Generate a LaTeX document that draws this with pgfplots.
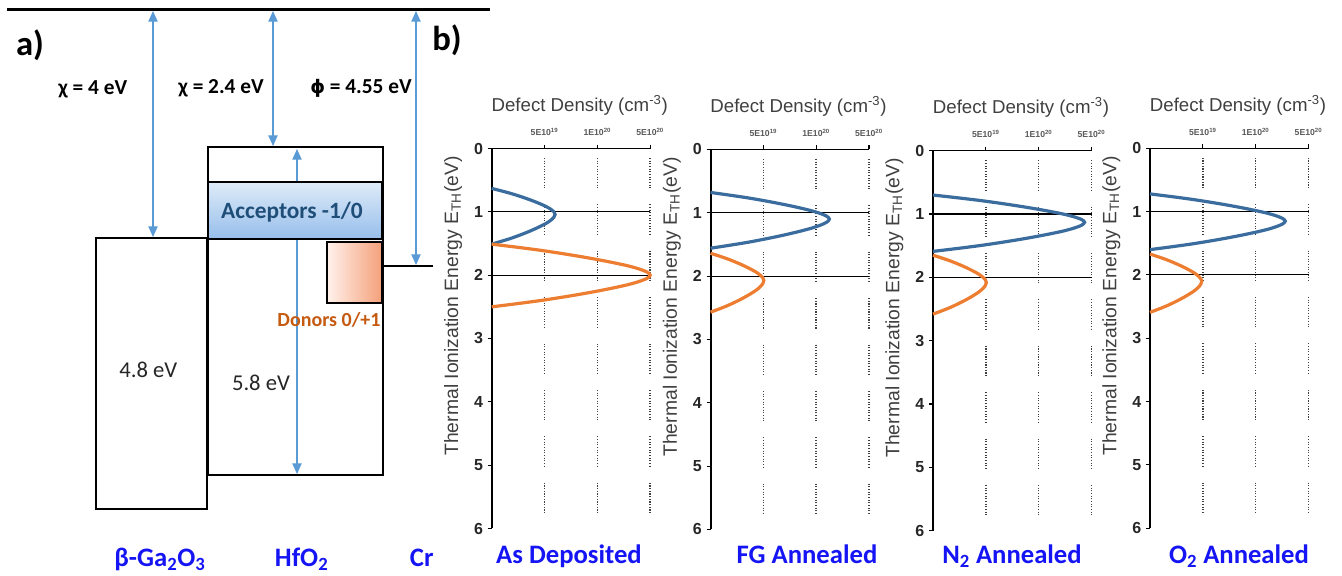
\documentclass[border=0pt]{standalone}
\usepackage{pgfplots}
\pgfplotsset{compat=1.18}
\usepackage{fontspec}
\setmainfont{Liberation Sans}
\newfontfamily\carlito{Carlito}
\newfontfamily\dejavu{DejaVu Sans}
\usetikzlibrary{arrows.meta}
\definecolor{cblue}{RGB}{58,108,158}
\definecolor{corange}{RGB}{237,125,49}
\definecolor{arrowblue}{RGB}{91,155,213}
\definecolor{labblue}{RGB}{20,20,245}
\definecolor{accblue}{RGB}{31,78,121}
\definecolor{donor}{RGB}{197,90,17}
\definecolor{txtgray}{RGB}{64,64,64}
\definecolor{accTop}{RGB}{222,235,248}
\definecolor{accBot}{RGB}{150,190,235}
\definecolor{donL}{RGB}{255,242,236}
\definecolor{donR}{RGB}{244,160,122}
\pgfplotsset{panel/.style={
  scale only axis, width=118.875pt, height=285pt, anchor=north west,
  xmin=0,xmax=3,ymin=0,ymax=6, y dir=reverse, clip=false,
  axis line style={draw=none},
  xtick={1,2,3},
  xticklabels={5E10\textsuperscript{19},1E10\textsuperscript{20},5E10\textsuperscript{20}},
  ytick={0,1,2,3,4,5,6},
  xtick pos=right, xticklabel pos=right, ytick pos=left,
  tick align=outside, major tick length=3pt,
  tick style={black, line width=0.8pt},
  /pgf/number format/assume math mode=true,
  yticklabel style={font=\fontsize{12}{12}\selectfont\bfseries, text=black!85},
  xticklabel style={font=\fontsize{6.5}{7}\selectfont\bfseries, text=black!65, yshift=3pt},
},
gridline/.style={black!75, line width=1.1pt, dash pattern=on 0.8pt off 1.2pt on 0.8pt off 1.2pt on 0.8pt off 1.2pt on 0.8pt off 1.2pt on 0.8pt off 1.2pt on 0.8pt off 1.2pt on 0.8pt off 1.2pt on 0.8pt off 1.2pt on 0.8pt off 1.2pt on 0.8pt off 1.2pt on 0.8pt off 1.2pt on 0.8pt off 12pt},
curveB/.style={cblue, line width=2.4pt, smooth},
curveO/.style={corange, line width=2.4pt, smooth},
}
\newcommand{\panelframe}{%
  \addplot[gridline] coordinates {(1,0.15) (1,5.87)};
  \addplot[gridline] coordinates {(2,0.15) (2,5.87)};
  \addplot[gridline] coordinates {(3,0.15) (3,5.87)};
  \addplot[black, line width=0.8pt] coordinates {(0,1) (3,1)};
  \addplot[black, line width=0.8pt] coordinates {(0,2) (3,2)};
  \addplot[black, line width=1pt] coordinates {(0,0) (3,0)};
  \addplot[black, line width=1.5pt] coordinates {(0,0) (0,6)};
}
\begin{document}
\begin{tikzpicture}
\begin{axis}[at={(0pt,0pt)}, anchor=south west, scale only axis,
  width=1006.5pt, height=431.25pt, xmin=0, xmax=1342, ymin=0, ymax=575,
  y dir=reverse, hide axis, clip=false]
% vacuum level
\addplot[black, line width=2.25pt] coordinates {(7,9) (490,9)};
% beta-Ga2O3 band box
\addplot[draw=black, line width=1.5pt] coordinates {(96,238) (207,238) (207,509) (96,509)} -- cycle;
% HfO2 band box
\addplot[draw=black, line width=1.5pt] coordinates {(208,147) (383,147) (383,475) (208,475)} -- cycle;
% Cr Fermi level
\addplot[black, line width=1.5pt] coordinates {(383,266) (433,266)};
% arrows
\addplot[arrowblue, line width=0.8pt, arrows={Triangle[length=8pt,width=7pt]-Triangle[length=8pt,width=7pt]}] coordinates {(153,11) (153,237)};
\addplot[arrowblue, line width=0.8pt, arrows={Triangle[length=8pt,width=7pt]-Triangle[length=8pt,width=7pt]}] coordinates {(273,11) (273,146)};
\addplot[arrowblue, line width=0.8pt, arrows={Triangle[length=8pt,width=7pt]-Triangle[length=8pt,width=7pt]}] coordinates {(416,11) (416,265)};
\addplot[arrowblue, line width=0.8pt, arrows={Triangle[length=8pt,width=7pt]-Triangle[length=8pt,width=7pt]}] coordinates {(297,149) (297,474)};
% acceptor and donor bands
\addplot[draw=black, line width=1.5pt, top color=accTop, bottom color=accBot] coordinates {(208,182) (382,182) (382,239) (208,239)} -- cycle;
\addplot[draw=black, line width=1.5pt, left color=donL, right color=donR] coordinates {(327,242) (382,242) (382,303) (327,303)} -- cycle;
% texts panel a
\node[font=\carlito\bfseries\fontsize{26}{28}\selectfont, anchor=base] at (axis cs:30,55) {a)};
\node[font=\carlito\bfseries\fontsize{26}{28}\selectfont, anchor=base] at (axis cs:447,50) {b)};
\node[font=\carlito\bfseries\fontsize{16}{18}\selectfont, anchor=base] at (axis cs:92.7,94) {χ = 4 eV};
\node[font=\carlito\bfseries\fontsize{16}{18}\selectfont, anchor=base] at (axis cs:221,93.3) {χ = 2.4 eV};
\node[font=\carlito\bfseries\fontsize{16}{18}\selectfont, anchor=base] at (axis cs:361,93.3) {{\dejavu\bfseries\fontsize{14}{16}\selectfont ϕ} = 4.55 eV};
\node[font=\carlito\bfseries\fontsize{17.5}{19}\selectfont, text=accblue, anchor=base] at (axis cs:292,218.3) {Acceptors -1/0};
\node[font=\carlito\bfseries\fontsize{15}{17}\selectfont, text=donor, anchor=base] at (axis cs:329,326.7) {Donors 0/+1};
\node[font=\carlito\fontsize{17}{19}\selectfont, text=black!85, anchor=base] at (axis cs:148.3,377.3) {4.8 eV};
\node[font=\carlito\fontsize{17}{19}\selectfont, text=black!85, anchor=base] at (axis cs:261,390.7) {5.8 eV};
\node[font=\carlito\bfseries\fontsize{20}{22}\selectfont, text=labblue, anchor=base] at (axis cs:160,566) {β-Ga\textsubscript{2}O\textsubscript{3}};
\node[font=\carlito\bfseries\fontsize{20}{22}\selectfont, text=labblue, anchor=base] at (axis cs:301.7,566) {HfO\textsubscript{2}};
\node[font=\carlito\bfseries\fontsize{20}{22}\selectfont, text=labblue, anchor=base] at (axis cs:421.7,566) {Cr};
% texts panel b
\node[font=\carlito\bfseries\fontsize{20}{22}\selectfont, text=labblue, anchor=base] at (axis cs:569,563.5) {As Deposited};
\node[font=\carlito\bfseries\fontsize{20}{22}\selectfont, text=labblue, anchor=base] at (axis cs:807,563.5) {FG Annealed};
\node[font=\carlito\bfseries\fontsize{20}{22}\selectfont, text=labblue, anchor=base] at (axis cs:1012,563.5) {N\textsubscript{2} Annealed};
\node[font=\carlito\bfseries\fontsize{20}{22}\selectfont, text=labblue, anchor=base] at (axis cs:1239,563.5) {O\textsubscript{2} Annealed};
\node[font=\fontsize{14}{16}\selectfont, text=txtgray, anchor=base] at (axis cs:579.7,111.5) {Defect Density (cm\textsuperscript{-3})};
\node[font=\fontsize{14}{16}\selectfont, text=txtgray, anchor=base] at (axis cs:798.5,112.4) {Defect Density (cm\textsuperscript{-3})};
\node[font=\fontsize{14}{16}\selectfont, text=txtgray, anchor=base] at (axis cs:1021,113.7) {Defect Density (cm\textsuperscript{-3})};
\node[font=\fontsize{14}{16}\selectfont, text=txtgray, anchor=base] at (axis cs:1238,111.3) {Defect Density (cm\textsuperscript{-3})};
\node[font=\fontsize{14.5}{16}\selectfont, text=txtgray, anchor=base, rotate=90] at (axis cs:458,306) {Thermal Ionization Energy E\textsubscript{TH}(eV)};
\node[font=\fontsize{14.5}{16}\selectfont, text=txtgray, anchor=base, rotate=90] at (axis cs:676.8,307) {Thermal Ionization Energy E\textsubscript{TH}(eV)};
\node[font=\fontsize{14.5}{16}\selectfont, text=txtgray, anchor=base, rotate=90] at (axis cs:899.3,308) {Thermal Ionization Energy E\textsubscript{TH}(eV)};
\node[font=\fontsize{14.5}{16}\selectfont, text=txtgray, anchor=base, rotate=90] at (axis cs:1116.3,306) {Thermal Ionization Energy E\textsubscript{TH}(eV)};
\end{axis}

% ---- As Deposited
\begin{axis}[panel, at={(368.775pt,319.875pt)}]
\panelframe
\addplot[curveB] coordinates {(0,0.63) (0.192,0.671) (0.372,0.712) (0.528,0.753) (0.672,0.794) (0.804,0.835) (0.924,0.876) (1.032,0.917) (1.116,0.958) (1.176,0.999) (1.2,1.04) (1.176,1.087) (1.116,1.134) (1.032,1.181) (0.924,1.228) (0.804,1.275) (0.672,1.322) (0.528,1.369) (0.372,1.416) (0.192,1.463) (0,1.51)};
\addplot[curveO] coordinates {(0,1.51) (0.48,1.559) (0.93,1.608) (1.32,1.657) (1.68,1.706) (2.01,1.755) (2.31,1.804) (2.58,1.853) (2.79,1.902) (2.94,1.951) (3.0,2.0) (2.94,2.05) (2.79,2.1) (2.58,2.15) (2.31,2.2) (2.01,2.25) (1.68,2.3) (1.32,2.35) (0.93,2.4) (0.48,2.45) (0,2.5)};
\end{axis}
% ---- FG Annealed
\begin{axis}[panel, at={(532.875pt,319.2pt)}]
\panelframe
\addplot[curveB] coordinates {(0,0.68) (0.36,0.722) (0.698,0.764) (0.99,0.806) (1.26,0.848) (1.508,0.89) (1.733,0.932) (1.935,0.974) (2.093,1.016) (2.205,1.058) (2.25,1.1) (2.205,1.146) (2.093,1.192) (1.935,1.238) (1.733,1.284) (1.508,1.33) (1.26,1.376) (0.99,1.422) (0.698,1.468) (0.36,1.514) (0,1.56)};
\addplot[curveO] coordinates {(0,1.64) (0.162,1.683) (0.313,1.726) (0.444,1.769) (0.566,1.812) (0.677,1.855) (0.778,1.898) (0.869,1.941) (0.939,1.984) (0.99,2.027) (1.01,2.07) (0.99,2.12) (0.939,2.17) (0.869,2.22) (0.778,2.27) (0.677,2.32) (0.566,2.37) (0.444,2.42) (0.313,2.47) (0.162,2.52) (0,2.57)};
\end{axis}
% ---- N2 Annealed
\begin{axis}[panel, at={(699.75pt,318.225pt)}]
\panelframe
\addplot[curveB] coordinates {(0,0.70) (0.459,0.743) (0.89,0.786) (1.263,0.829) (1.607,0.872) (1.923,0.915) (2.21,0.958) (2.468,1.001) (2.669,1.044) (2.813,1.087) (2.87,1.13) (2.813,1.176) (2.669,1.222) (2.468,1.268) (2.21,1.314) (1.923,1.36) (1.607,1.406) (1.263,1.452) (0.89,1.498) (0.459,1.544) (0,1.59)};
\addplot[curveO] coordinates {(0,1.65) (0.162,1.693) (0.313,1.736) (0.444,1.779) (0.566,1.822) (0.677,1.865) (0.778,1.908) (0.869,1.951) (0.939,1.994) (0.99,2.037) (1.01,2.08) (0.99,2.13) (0.939,2.18) (0.869,2.23) (0.778,2.28) (0.677,2.33) (0.566,2.38) (0.444,2.43) (0.313,2.48) (0.162,2.53) (0,2.58)};
\end{axis}
% ---- O2 Annealed
\begin{axis}[panel, at={(862.5pt,320.025pt)}]
\panelframe
\addplot[curveB] coordinates {(0,0.72) (0.41,0.763) (0.794,0.806) (1.126,0.849) (1.434,0.892) (1.715,0.935) (1.971,0.978) (2.202,1.021) (2.381,1.064) (2.509,1.107) (2.56,1.15) (2.509,1.195) (2.381,1.24) (2.202,1.285) (1.971,1.33) (1.715,1.375) (1.434,1.42) (1.126,1.465) (0.794,1.51) (0.41,1.555) (0,1.60)};
\addplot[curveO] coordinates {(0,1.67) (0.157,1.713) (0.304,1.756) (0.431,1.799) (0.549,1.842) (0.657,1.885) (0.755,1.928) (0.843,1.971) (0.911,2.014) (0.96,2.057) (0.98,2.10) (0.96,2.149) (0.911,2.198) (0.843,2.247) (0.755,2.296) (0.657,2.345) (0.549,2.394) (0.431,2.443) (0.304,2.492) (0.157,2.541) (0,2.59)};
\end{axis}
\pgfresetboundingbox
\path[use as bounding box] (0,0) rectangle (1006.5pt,431.25pt);
\end{tikzpicture}
\end{document}
